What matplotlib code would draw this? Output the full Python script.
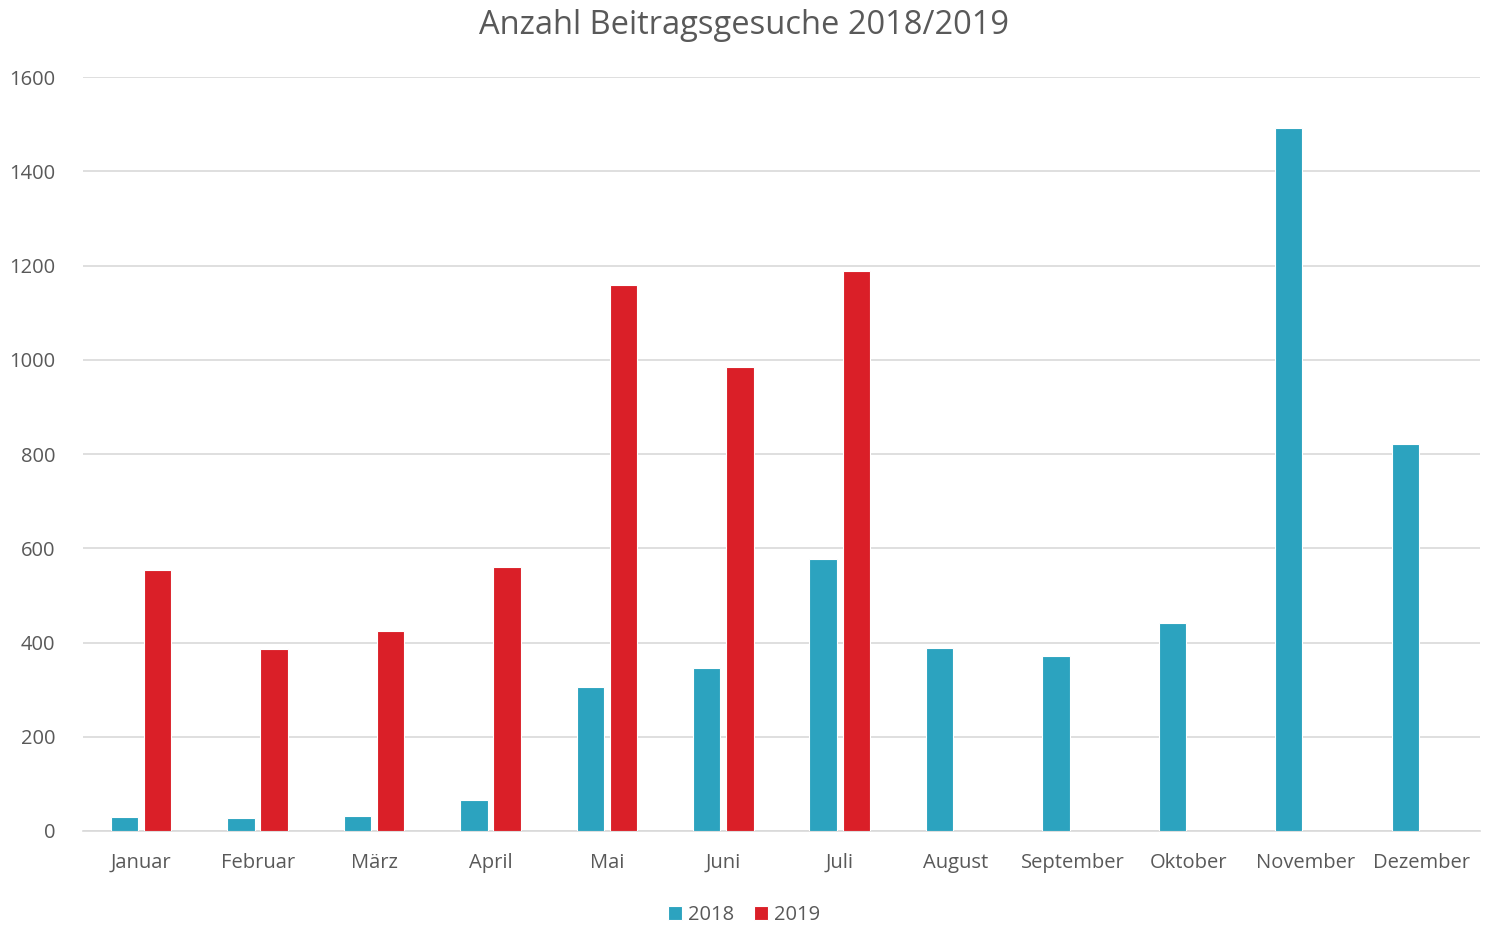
import numpy as np
from matplotlib import pyplot as plt

# monthly counts
months = ["Januar", "Februar", "März", "April", "Mai", "Juni", "Juli",
          "August", "September", "Oktober", "November", "Dezember"]
y2018 = [30, 28, 32, 66, 306, 346, 577, 388, 371, 441, 1492, 821]
y2019 = [554, 386, 424, 560, 1159, 985, 1188]

blue = "#2ca3bf"
red = "#da1f28"
grey = "#595959"

plt.rcParams["font.family"] = ["Open Sans", "DejaVu Sans"]

fig = plt.figure(figsize=(14.88, 9.26), dpi=100)
ax = fig.add_axes([0.0558, 0.1026, 0.9388, 0.8142])

x = np.arange(len(months))
w = 0.235
ax.bar(x - 0.142, y2018, w, color=blue, edgecolor="white", linewidth=0.8,
       label="2018", zorder=3)
ax.bar(x[:len(y2019)] + 0.142, y2019, w, color=red, edgecolor="white",
       linewidth=0.8, label="2019", zorder=3)

ax.set_xlim(-0.5, len(months) - 0.5)
ax.set_ylim(0, 1600)
ax.set_yticks(range(0, 1601, 200))
ax.set_xticks(x)
ax.set_xticklabels(months)
ax.yaxis.grid(True, color="#d9d9d9", linewidth=1.2, zorder=0)
ax.set_axisbelow(True)
for s in ["top", "right", "left"]:
    ax.spines[s].set_visible(False)
ax.spines["bottom"].set_color("#d9d9d9")
ax.spines["bottom"].set_linewidth(1.2)
ax.tick_params(axis="both", length=0, labelsize=14.5, colors=grey, pad=16)
ax.tick_params(axis="y", pad=20)

fig.suptitle("Anzahl Beitragsgesuche 2018/2019", y=0.99, fontsize=23.5,
             color=grey)
fig.legend(loc="center", bbox_to_anchor=(0.5, 0.012), ncol=2,
           frameon=False, fontsize=14.5, labelcolor=grey, handlelength=0.7,
           handleheight=0.7, handletextpad=0.3, columnspacing=1.0,
           borderaxespad=0)

fig.savefig("out.png", dpi=100)
